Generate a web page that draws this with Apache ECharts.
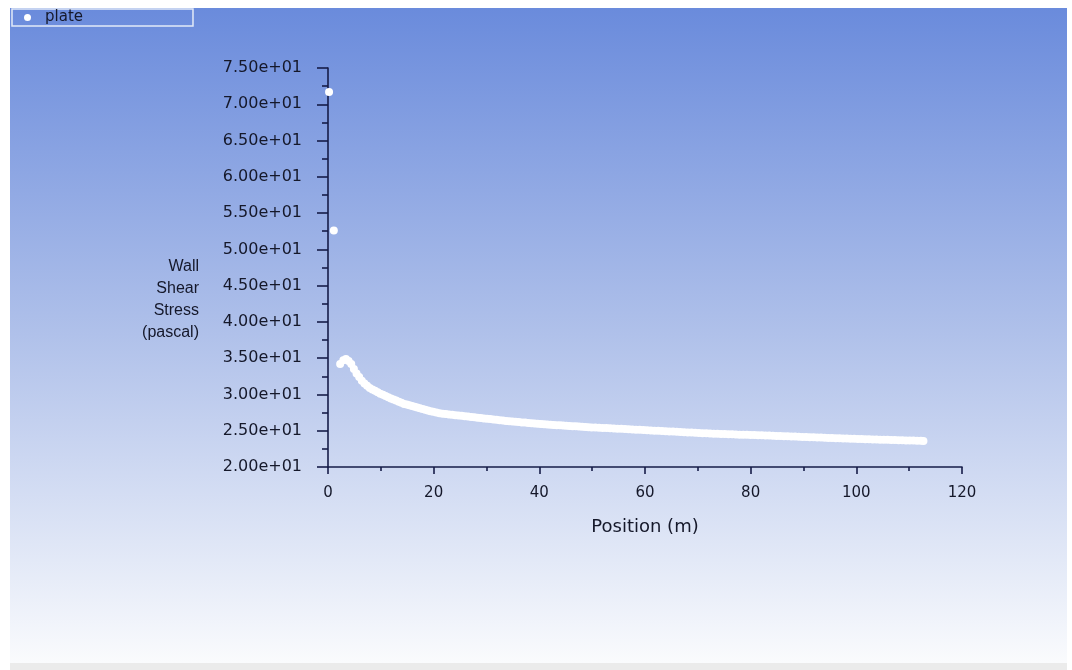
<!DOCTYPE html>
<html>
<head>
<meta charset="utf-8">
<script src="https://cdn.jsdelivr.net/npm/echarts@6/dist/echarts.min.js"></script>
<style>
html,body{margin:0;padding:0;background:#ffffff;}
#chart{width:1072px;height:670px;}
</style>
</head>
<body>
<div id="chart"></div>
<script>
// Position (m)
const positions = [0.2, 1.1,
  2.3, 2.9, 3.4, 3.9, 4.4, 4.9, 5.4, 5.9, 6.4, 6.9, 7.4, 7.9, 8.4, 8.9, 9.4, 9.9,
  10.4, 10.9, 11.4, 11.9, 12.4, 12.9, 13.4, 13.9, 14.4, 14.9, 15.4, 15.9, 16.4, 16.9, 17.4, 17.9, 18.4, 18.9, 19.4, 19.9,
  20.5, 21.1, 21.7, 22.3, 22.9, 23.5, 24.1, 24.7, 25.3, 25.9, 26.5, 27.1, 27.7, 28.3, 28.9, 29.5,
  30.1, 30.7, 31.3, 31.9, 32.5, 33.1, 33.7, 34.3, 34.9, 35.5, 36.1, 36.7, 37.3, 37.9, 38.5, 39.1, 39.7,
  40.3, 40.9, 41.5, 42.1, 42.7, 43.3, 43.9, 44.5, 45.1, 45.7, 46.3, 46.9, 47.5, 48.1, 48.7, 49.3, 49.9,
  50.6, 51.3, 52.0, 52.7, 53.4, 54.1, 54.8, 55.5, 56.2, 56.9, 57.6, 58.3, 59.0, 59.7,
  60.4, 61.1, 61.8, 62.5, 63.2, 63.9, 64.6, 65.3, 66.0, 66.7, 67.4, 68.1, 68.8, 69.5,
  70.2, 70.9, 71.6, 72.3, 73.0, 73.7, 74.4, 75.1, 75.8, 76.5, 77.2, 77.9, 78.6, 79.3,
  80.0, 80.7, 81.4, 82.1, 82.8, 83.5, 84.2, 84.9, 85.6, 86.3, 87.0, 87.7, 88.4, 89.1, 89.8,
  90.5, 91.2, 91.9, 92.6, 93.3, 94.0, 94.7, 95.4, 96.1, 96.8, 97.5, 98.2, 98.9, 99.6,
  100.3, 101.0, 101.7, 102.4, 103.1, 103.8, 104.5, 105.2, 105.9, 106.6, 107.3, 108.0, 108.7, 109.4,
  110.1, 110.8, 111.5, 112.2, 112.7];
// Wall Shear Stress (pascal)
const stress = [71.7, 52.6,
  34.2, 34.7, 34.9, 34.6, 34.2, 33.5, 32.9, 32.4, 31.9, 31.5, 31.2, 30.9, 30.7, 30.5, 30.3, 30.1,
  29.95, 29.8, 29.6, 29.45, 29.3, 29.15, 29.0, 28.85, 28.7, 28.6, 28.5, 28.4, 28.3, 28.2, 28.1, 28.0, 27.9, 27.8, 27.7, 27.6,
  27.5, 27.4, 27.35, 27.3, 27.25, 27.2, 27.15, 27.1, 27.05, 27.0, 26.95, 26.9, 26.85, 26.8, 26.75, 26.7,
  26.65, 26.6, 26.55, 26.5, 26.45, 26.4, 26.35, 26.3, 26.27, 26.23, 26.2, 26.15, 26.12, 26.08, 26.04, 26.0, 25.97,
  25.93, 25.9, 25.87, 25.84, 25.8, 25.77, 25.74, 25.71, 25.68, 25.65, 25.62, 25.6, 25.57, 25.54, 25.52, 25.49, 25.46,
  25.43, 25.41, 25.38, 25.36, 25.33, 25.31, 25.28, 25.26, 25.23, 25.21, 25.18, 25.15, 25.12, 25.1,
  25.07, 25.04, 25.01, 24.99, 24.96, 24.93, 24.9, 24.88, 24.85, 24.82, 24.8, 24.77, 24.74, 24.71,
  24.68, 24.66, 24.64, 24.62, 24.6, 24.58, 24.56, 24.54, 24.52, 24.5, 24.48, 24.46, 24.44, 24.43,
  24.41, 24.4, 24.38, 24.36, 24.35, 24.33, 24.31, 24.29, 24.27, 24.25, 24.23, 24.21, 24.19, 24.17, 24.15,
  24.13, 24.11, 24.09, 24.07, 24.05, 24.03, 24.01, 23.99, 23.97, 23.95, 23.93, 23.92, 23.9, 23.88,
  23.86, 23.85, 23.83, 23.82, 23.8, 23.79, 23.77, 23.76, 23.74, 23.73, 23.71, 23.7, 23.68, 23.67,
  23.65, 23.64, 23.62, 23.61, 23.6];
const seriesName = 'plate';
const xTitle = 'Position (m)';
const yTitle = 'Wall\nShear\nStress\n(pascal)';

const chart = echarts.init(document.getElementById('chart'), null, {renderer: 'canvas'});
const axisColor = '#161c48';
const textColor = '#15182a';
const option = {
  backgroundColor: '#ffffff',
  animation: false,
  graphic: [
    {type: 'rect', z: -10, silent: true, shape: {x: 10, y: 8, width: 1057, height: 655},
     style: {fill: new echarts.graphic.LinearGradient(0, 0, 0, 1, [
       {offset: 0, color: '#6a8bdc'}, {offset: 0.5, color: '#b0c1ea'}, {offset: 1, color: '#fafbfd'}])}},
    {type: 'rect', z: -10, silent: true, shape: {x: 10, y: 663, width: 1057, height: 7}, style: {fill: '#ebebeb'}},
    {type: 'text', right: 873, top: 256, silent: true,
     style: {text: yTitle, font: '16px "Liberation Sans", Arial, sans-serif', fill: textColor, textAlign: 'right', lineHeight: 22}}
  ],
  legend: {
    left: 12, top: 9,
    padding: [1, 110, 1, 12],
    borderColor: '#e2eaf7', borderWidth: 1.5,
    icon: 'circle', itemWidth: 7, itemHeight: 7,
    textStyle: {color: textColor, fontFamily: '"DejaVu Sans", sans-serif', fontSize: 15, padding: [0, 0, 0, 9]},
    data: [seriesName]
  },
  grid: {left: 328, right: 110, top: 68, bottom: 203, containLabel: false},
  xAxis: {
    type: 'value', min: 0, max: 120, interval: 20,
    name: xTitle, nameLocation: 'middle', nameGap: 51,
    nameTextStyle: {color: textColor, fontFamily: '"DejaVu Sans", sans-serif', fontSize: 18},
    axisLine: {show: true, onZero: false, lineStyle: {color: axisColor, width: 1.6}},
    axisTick: {show: true, inside: false, length: 7, lineStyle: {color: axisColor, width: 1.6}},
    minorTick: {show: true, splitNumber: 2, length: 4, lineStyle: {color: axisColor, width: 1.6}},
    axisLabel: {color: textColor, fontFamily: '"DejaVu Sans", sans-serif', fontSize: 15, margin: 19},
    splitLine: {show: false}
  },
  yAxis: {
    type: 'value', min: 20, max: 75, interval: 5,
    axisLine: {show: true, onZero: false, lineStyle: {color: axisColor, width: 1.6}},
    axisTick: {show: true, inside: false, length: 11, lineStyle: {color: axisColor, width: 1.6}},
    minorTick: {show: true, splitNumber: 2, length: 6, lineStyle: {color: axisColor, width: 1.6}},
    axisLabel: {color: textColor, fontFamily: '"DejaVu Sans", sans-serif', fontSize: 16, margin: 26,
      formatter: function (v) { return v.toExponential(2).replace(/e\+(\d)$/, 'e+0$1').replace(/e-(\d)$/, 'e-0$1'); }},
    splitLine: {show: false}
  },
  series: [{
    name: seriesName, type: 'scatter', symbol: 'circle', symbolSize: 8,
    itemStyle: {color: '#ffffff', opacity: 1},
    data: positions.map((p, i) => [p, stress[i]])
  }]
};
chart.setOption(option);
</script>
</body>
</html>
